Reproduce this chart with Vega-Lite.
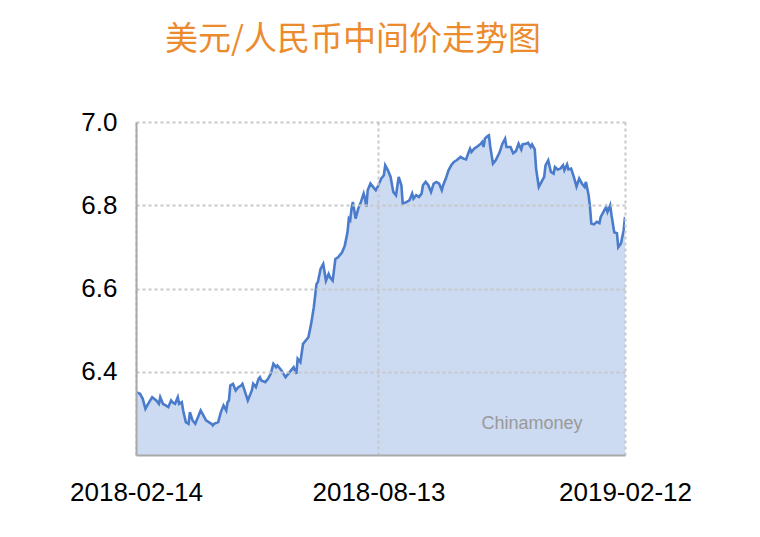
{
  "$schema": "https://vega.github.io/schema/vega-lite/v6.json",
  "width": 489,
  "height": 333,
  "autosize": {"type": "none"},
  "padding": {"left": 136, "top": 122, "right": 135, "bottom": 82},
  "background": "white",
  "config": {"view": {"stroke": null}},
  "title": {
    "text": "美元/人民币中间价走势图",
    "font": "Noto Sans CJK SC",
    "fontSize": 33,
    "fontWeight": "normal",
    "color": "#EC8B2E",
    "anchor": "start",
    "frame": "group",
    "dx": 29,
    "offset": 52
  },
  "datasets": {
    "rate": [
      {"date": "2018-02-14", "v": 6.351}, {"date": "2018-02-17", "v": 6.347}, {"date": "2018-02-19", "v": 6.335},
      {"date": "2018-02-21", "v": 6.311}, {"date": "2018-02-23", "v": 6.323}, {"date": "2018-02-26", "v": 6.339},
      {"date": "2018-03-01", "v": 6.331}, {"date": "2018-03-03", "v": 6.323}, {"date": "2018-03-04", "v": 6.339},
      {"date": "2018-03-06", "v": 6.323}, {"date": "2018-03-08", "v": 6.319}, {"date": "2018-03-10", "v": 6.315},
      {"date": "2018-03-12", "v": 6.331}, {"date": "2018-03-13", "v": 6.327}, {"date": "2018-03-15", "v": 6.323},
      {"date": "2018-03-17", "v": 6.339}, {"date": "2018-03-18", "v": 6.323}, {"date": "2018-03-20", "v": 6.327},
      {"date": "2018-03-21", "v": 6.307}, {"date": "2018-03-23", "v": 6.279}, {"date": "2018-03-25", "v": 6.275},
      {"date": "2018-03-26", "v": 6.303}, {"date": "2018-03-28", "v": 6.283}, {"date": "2018-03-30", "v": 6.275},
      {"date": "2018-04-01", "v": 6.291}, {"date": "2018-04-03", "v": 6.307}, {"date": "2018-04-05", "v": 6.295},
      {"date": "2018-04-07", "v": 6.283}, {"date": "2018-04-09", "v": 6.279}, {"date": "2018-04-11", "v": 6.275},
      {"date": "2018-04-12", "v": 6.271}, {"date": "2018-04-13", "v": 6.275}, {"date": "2018-04-16", "v": 6.279},
      {"date": "2018-04-18", "v": 6.303}, {"date": "2018-04-20", "v": 6.319}, {"date": "2018-04-22", "v": 6.307},
      {"date": "2018-04-23", "v": 6.327}, {"date": "2018-04-24", "v": 6.331}, {"date": "2018-04-25", "v": 6.367},
      {"date": "2018-04-27", "v": 6.371}, {"date": "2018-04-29", "v": 6.355}, {"date": "2018-05-01", "v": 6.363},
      {"date": "2018-05-03", "v": 6.367}, {"date": "2018-05-04", "v": 6.371}, {"date": "2018-05-06", "v": 6.351},
      {"date": "2018-05-08", "v": 6.331}, {"date": "2018-05-11", "v": 6.355}, {"date": "2018-05-12", "v": 6.371},
      {"date": "2018-05-14", "v": 6.363}, {"date": "2018-05-16", "v": 6.383}, {"date": "2018-05-17", "v": 6.387},
      {"date": "2018-05-18", "v": 6.379}, {"date": "2018-05-21", "v": 6.375}, {"date": "2018-05-23", "v": 6.383},
      {"date": "2018-05-25", "v": 6.395}, {"date": "2018-05-27", "v": 6.419}, {"date": "2018-05-29", "v": 6.411},
      {"date": "2018-05-30", "v": 6.415}, {"date": "2018-06-02", "v": 6.403}, {"date": "2018-06-05", "v": 6.387},
      {"date": "2018-06-08", "v": 6.399}, {"date": "2018-06-11", "v": 6.411}, {"date": "2018-06-13", "v": 6.395},
      {"date": "2018-06-14", "v": 6.431}, {"date": "2018-06-16", "v": 6.423}, {"date": "2018-06-18", "v": 6.467},
      {"date": "2018-06-20", "v": 6.475}, {"date": "2018-06-22", "v": 6.483}, {"date": "2018-06-24", "v": 6.515},
      {"date": "2018-06-26", "v": 6.555}, {"date": "2018-06-28", "v": 6.611}, {"date": "2018-06-29", "v": 6.615},
      {"date": "2018-07-01", "v": 6.647}, {"date": "2018-07-03", "v": 6.659}, {"date": "2018-07-05", "v": 6.619},
      {"date": "2018-07-07", "v": 6.635}, {"date": "2018-07-08", "v": 6.627}, {"date": "2018-07-10", "v": 6.619},
      {"date": "2018-07-12", "v": 6.671}, {"date": "2018-07-14", "v": 6.675}, {"date": "2018-07-17", "v": 6.687},
      {"date": "2018-07-19", "v": 6.703}, {"date": "2018-07-21", "v": 6.735}, {"date": "2018-07-22", "v": 6.768},
      {"date": "2018-07-23", "v": 6.764}, {"date": "2018-07-24", "v": 6.792}, {"date": "2018-07-25", "v": 6.808},
      {"date": "2018-07-27", "v": 6.768}, {"date": "2018-07-29", "v": 6.792}, {"date": "2018-07-31", "v": 6.808},
      {"date": "2018-08-02", "v": 6.828}, {"date": "2018-08-03", "v": 6.816}, {"date": "2018-08-04", "v": 6.796},
      {"date": "2018-08-05", "v": 6.836}, {"date": "2018-08-07", "v": 6.852}, {"date": "2018-08-09", "v": 6.844},
      {"date": "2018-08-11", "v": 6.836}, {"date": "2018-08-13", "v": 6.848}, {"date": "2018-08-15", "v": 6.864},
      {"date": "2018-08-17", "v": 6.872}, {"date": "2018-08-18", "v": 6.896}, {"date": "2018-08-20", "v": 6.884},
      {"date": "2018-08-22", "v": 6.868}, {"date": "2018-08-24", "v": 6.832}, {"date": "2018-08-26", "v": 6.824},
      {"date": "2018-08-28", "v": 6.868}, {"date": "2018-08-30", "v": 6.848}, {"date": "2018-08-31", "v": 6.804},
      {"date": "2018-09-03", "v": 6.808}, {"date": "2018-09-05", "v": 6.812}, {"date": "2018-09-07", "v": 6.828},
      {"date": "2018-09-08", "v": 6.816}, {"date": "2018-09-10", "v": 6.824}, {"date": "2018-09-12", "v": 6.820},
      {"date": "2018-09-14", "v": 6.828}, {"date": "2018-09-15", "v": 6.848}, {"date": "2018-09-17", "v": 6.856},
      {"date": "2018-09-19", "v": 6.848}, {"date": "2018-09-21", "v": 6.832}, {"date": "2018-09-23", "v": 6.852},
      {"date": "2018-09-25", "v": 6.856}, {"date": "2018-09-27", "v": 6.852}, {"date": "2018-09-29", "v": 6.836},
      {"date": "2018-09-30", "v": 6.848}, {"date": "2018-10-02", "v": 6.864}, {"date": "2018-10-04", "v": 6.884},
      {"date": "2018-10-06", "v": 6.896}, {"date": "2018-10-08", "v": 6.904}, {"date": "2018-10-10", "v": 6.908},
      {"date": "2018-10-13", "v": 6.916}, {"date": "2018-10-15", "v": 6.912}, {"date": "2018-10-17", "v": 6.910},
      {"date": "2018-10-19", "v": 6.928}, {"date": "2018-10-20", "v": 6.936}, {"date": "2018-10-21", "v": 6.928},
      {"date": "2018-10-23", "v": 6.936}, {"date": "2018-10-25", "v": 6.940}, {"date": "2018-10-28", "v": 6.948},
      {"date": "2018-10-29", "v": 6.952}, {"date": "2018-10-30", "v": 6.940}, {"date": "2018-10-31", "v": 6.960},
      {"date": "2018-11-02", "v": 6.966}, {"date": "2018-11-03", "v": 6.968}, {"date": "2018-11-04", "v": 6.940},
      {"date": "2018-11-06", "v": 6.900}, {"date": "2018-11-08", "v": 6.908}, {"date": "2018-11-11", "v": 6.928},
      {"date": "2018-11-13", "v": 6.948}, {"date": "2018-11-15", "v": 6.960}, {"date": "2018-11-16", "v": 6.940},
      {"date": "2018-11-19", "v": 6.940}, {"date": "2018-11-21", "v": 6.925}, {"date": "2018-11-23", "v": 6.930},
      {"date": "2018-11-25", "v": 6.948}, {"date": "2018-11-27", "v": 6.934}, {"date": "2018-11-28", "v": 6.946},
      {"date": "2018-12-01", "v": 6.948}, {"date": "2018-12-02", "v": 6.950}, {"date": "2018-12-04", "v": 6.940},
      {"date": "2018-12-05", "v": 6.946}, {"date": "2018-12-07", "v": 6.934}, {"date": "2018-12-08", "v": 6.888},
      {"date": "2018-12-10", "v": 6.844}, {"date": "2018-12-12", "v": 6.856}, {"date": "2018-12-14", "v": 6.868},
      {"date": "2018-12-15", "v": 6.896}, {"date": "2018-12-17", "v": 6.908}, {"date": "2018-12-19", "v": 6.880},
      {"date": "2018-12-21", "v": 6.876}, {"date": "2018-12-22", "v": 6.892}, {"date": "2018-12-24", "v": 6.886},
      {"date": "2018-12-26", "v": 6.888}, {"date": "2018-12-28", "v": 6.896}, {"date": "2018-12-29", "v": 6.884},
      {"date": "2018-12-31", "v": 6.898}, {"date": "2019-01-01", "v": 6.886}, {"date": "2019-01-03", "v": 6.888},
      {"date": "2019-01-05", "v": 6.868}, {"date": "2019-01-07", "v": 6.845}, {"date": "2019-01-09", "v": 6.864},
      {"date": "2019-01-11", "v": 6.852}, {"date": "2019-01-13", "v": 6.844}, {"date": "2019-01-14", "v": 6.856},
      {"date": "2019-01-16", "v": 6.824}, {"date": "2019-01-17", "v": 6.796}, {"date": "2019-01-18", "v": 6.756},
      {"date": "2019-01-20", "v": 6.754}, {"date": "2019-01-22", "v": 6.760}, {"date": "2019-01-24", "v": 6.757},
      {"date": "2019-01-25", "v": 6.772}, {"date": "2019-01-27", "v": 6.784}, {"date": "2019-01-29", "v": 6.796},
      {"date": "2019-01-30", "v": 6.784}, {"date": "2019-02-01", "v": 6.800}, {"date": "2019-02-02", "v": 6.776},
      {"date": "2019-02-04", "v": 6.735}, {"date": "2019-02-06", "v": 6.733}, {"date": "2019-02-07", "v": 6.699},
      {"date": "2019-02-09", "v": 6.708}, {"date": "2019-02-11", "v": 6.740}, {"date": "2019-02-12", "v": 6.772}
    ],
    "mark": [
      {"date": "2018-12-05", "v": 6.275, "label": "Chinamoney"}
    ]
  },
  "layer": [
    {
      "data": {"name": "rate"},
      "mark": {"type": "area", "color": "#CCDAF2", "clip": true},
      "encoding": {
        "x": {
          "field": "date",
          "type": "temporal",
          "scale": {
            "type": "utc",
            "domain": [
              {"year": 2018, "month": 2, "date": 14, "utc": true},
              {"year": 2019, "month": 2, "date": 12, "utc": true}
            ]
          },
          "axis": {
            "title": null,
            "values": [
              {"year": 2018, "month": 2, "date": 14, "utc": true},
              {"year": 2018, "month": 8, "date": 13, "utc": true},
              {"year": 2019, "month": 2, "date": 12, "utc": true}
            ],
            "labelExpr": "utcFormat(datum.value, '%Y-%m-%d')",
            "labelFont": "Liberation Sans",
            "labelFontSize": 26,
            "labelColor": "#000000",
            "labelPadding": 24,
            "labelFlush": false,
            "labelOverlap": false,
            "ticks": false,
            "domainColor": "#A9A9A9",
            "domainWidth": 2,
            "grid": true,
            "gridColor": "#C8C8C8",
            "gridWidth": 2,
            "gridDash": [3, 3],
            "zindex": 1
          }
        },
        "y": {
          "field": "v",
          "type": "quantitative",
          "scale": {"domain": [6.2, 7.0], "nice": false, "zero": false},
          "axis": {
            "title": null,
            "values": [6.4, 6.6, 6.8, 7.0],
            "format": ".1f",
            "labelFont": "Liberation Sans",
            "labelFontSize": 26,
            "labelColor": "#000000",
            "labelPadding": 19,
            "labelBaseline": "middle",
            "labelDy": 3,
            "ticks": false,
            "domainColor": "#A9A9A9",
            "domainWidth": 2,
            "grid": true,
            "gridColor": "#C8C8C8",
            "gridWidth": 2,
            "gridDash": [3, 3],
            "zindex": 1
          }
        }
      }
    },
    {
      "data": {"name": "rate"},
      "mark": {"type": "line", "color": "#4A7CCB", "strokeWidth": 2.6, "clip": true},
      "encoding": {
        "x": {"field": "date", "type": "temporal"},
        "y": {"field": "v", "type": "quantitative"}
      }
    },
    {
      "data": {"name": "mark"},
      "mark": {"type": "text", "font": "Liberation Sans", "fontSize": 18, "color": "#999999", "align": "center", "baseline": "middle"},
      "encoding": {
        "x": {"field": "date", "type": "temporal"},
        "y": {"field": "v", "type": "quantitative"},
        "text": {"field": "label", "type": "nominal"}
      }
    }
  ]
}
